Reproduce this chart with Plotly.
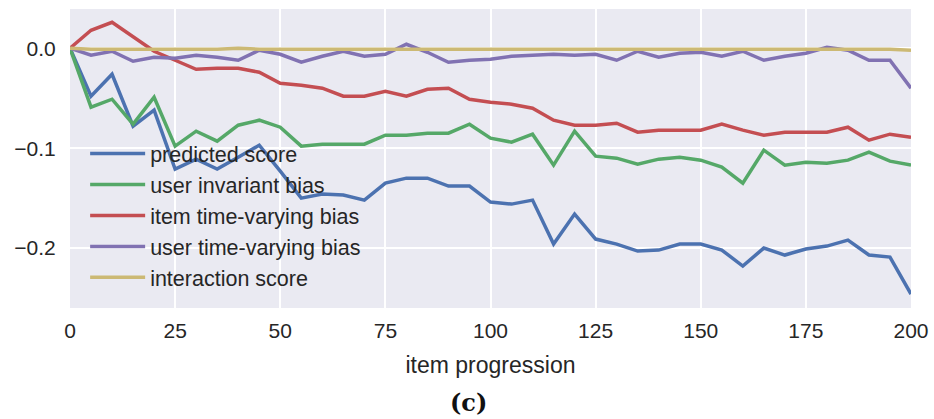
import plotly.graph_objects as go

# item progression steps
steps = list(range(0, 201, 5))

predicted_score = [
    0.000, -0.048, -0.026, -0.078, -0.062, -0.121, -0.111, -0.121, -0.109, -0.097,
    -0.123, -0.150, -0.146, -0.147, -0.152, -0.135, -0.130, -0.130, -0.138, -0.138,
    -0.154, -0.156, -0.152, -0.196, -0.166, -0.191, -0.196, -0.203, -0.202, -0.196,
    -0.196, -0.202, -0.218, -0.200, -0.207, -0.201, -0.198, -0.192, -0.207, -0.209,
    -0.246,
]
user_invariant_bias = [
    0.000, -0.059, -0.051, -0.076, -0.049, -0.098, -0.083, -0.093, -0.077, -0.072,
    -0.079, -0.098, -0.096, -0.096, -0.096, -0.087, -0.087, -0.085, -0.085, -0.076,
    -0.090, -0.094, -0.086, -0.117, -0.083, -0.108, -0.110, -0.116, -0.111, -0.109,
    -0.112, -0.119, -0.135, -0.102, -0.117, -0.114, -0.115, -0.112, -0.104, -0.113,
    -0.117,
]
item_time_varying_bias = [
    0.000, 0.018, 0.026, 0.012, -0.003, -0.012, -0.021, -0.020, -0.020, -0.024,
    -0.035, -0.037, -0.040, -0.048, -0.048, -0.043, -0.048, -0.041, -0.040, -0.051,
    -0.054, -0.056, -0.060, -0.072, -0.077, -0.077, -0.075, -0.084, -0.082, -0.082,
    -0.082, -0.076, -0.082, -0.087, -0.084, -0.084, -0.084, -0.079, -0.092, -0.086,
    -0.089,
]
user_time_varying_bias = [
    0.000, -0.007, -0.003, -0.013, -0.009, -0.010, -0.007, -0.009, -0.012, -0.002,
    -0.006, -0.014, -0.008, -0.003, -0.008, -0.006, 0.004, -0.004, -0.014, -0.012,
    -0.011, -0.008, -0.007, -0.006, -0.007, -0.006, -0.012, -0.003, -0.009, -0.005,
    -0.004, -0.008, -0.003, -0.012, -0.008, -0.005, 0.001, -0.002, -0.012, -0.012,
    -0.040,
]
interaction_score = [
    0.000, -0.001, -0.001, -0.001, -0.001, -0.001, -0.001, -0.001, 0.000, -0.001,
    -0.001, -0.001, -0.001, -0.001, -0.001, -0.001, -0.001, -0.001, -0.001, -0.001,
    -0.001, -0.001, -0.001, -0.001, -0.001, -0.001, -0.001, -0.001, -0.001, -0.001,
    -0.001, -0.001, -0.001, -0.001, -0.001, -0.001, -0.001, -0.001, -0.001, -0.001,
    -0.002,
]

series = [
    ("predicted score", predicted_score, "#4C72B0"),
    ("user invariant bias", user_invariant_bias, "#55A868"),
    ("item time-varying bias", item_time_varying_bias, "#C44E52"),
    ("user time-varying bias", user_time_varying_bias, "#8172B2"),
    ("interaction score", interaction_score, "#CCB974"),
]

x_ticks = [0, 25, 50, 75, 100, 125, 150, 175, 200]
y_ticks = [0.0, -0.1, -0.2]
y_tick_labels = ["0.0", "\u22120.1", "\u22120.2"]

fig = go.Figure()
for name, values, color in series:
    fig.add_trace(go.Scatter(
        x=steps, y=values, mode="lines", name=name,
        line=dict(color=color, width=3.5),
    ))

font_family = "Liberation Sans, Arial, sans-serif"
text_color = "#262626"

fig.update_layout(
    width=934, height=419,
    margin=dict(l=70, r=23, t=9, b=111, autoexpand=False),
    paper_bgcolor="white",
    plot_bgcolor="#EAEAF2",
    font=dict(family=font_family, size=21, color=text_color),
    showlegend=True,
    legend=dict(
        x=0.018, y=0.585, xanchor="left", yanchor="top",
        bgcolor="rgba(0,0,0,0)", font=dict(size=21.5, color=text_color),
        itemwidth=55, tracegroupgap=0,
    ),
    xaxis=dict(
        range=[0, 200], tickvals=x_ticks, showgrid=True,
        gridcolor="white", gridwidth=2, zeroline=False,
        ticks="outside", ticklen=4, tickcolor="rgba(0,0,0,0)",
        tickfont=dict(size=21, color=text_color),
        title=dict(text="item progression", font=dict(size=23, color=text_color), standoff=15),
        showline=False, automargin=False, ticklabeloverflow="allow",
    ),
    yaxis=dict(
        range=[-0.26, 0.0393], tickvals=y_ticks, ticktext=y_tick_labels,
        showgrid=True, gridcolor="white", gridwidth=2, zeroline=False,
        ticks="outside", ticklen=9, tickcolor="rgba(0,0,0,0)",
        tickfont=dict(size=21, color=text_color),
        showline=False, automargin=False,
    ),
    annotations=[dict(
        text="<b>(c)</b>", xref="paper", yref="paper",
        x=0.4744, y=-0.315, xanchor="center", yanchor="middle",
        showarrow=False,
        font=dict(family="DejaVu Serif, Liberation Serif, serif", size=24, color="#111111"),
    )],
)

fig.write_html("out.html")
